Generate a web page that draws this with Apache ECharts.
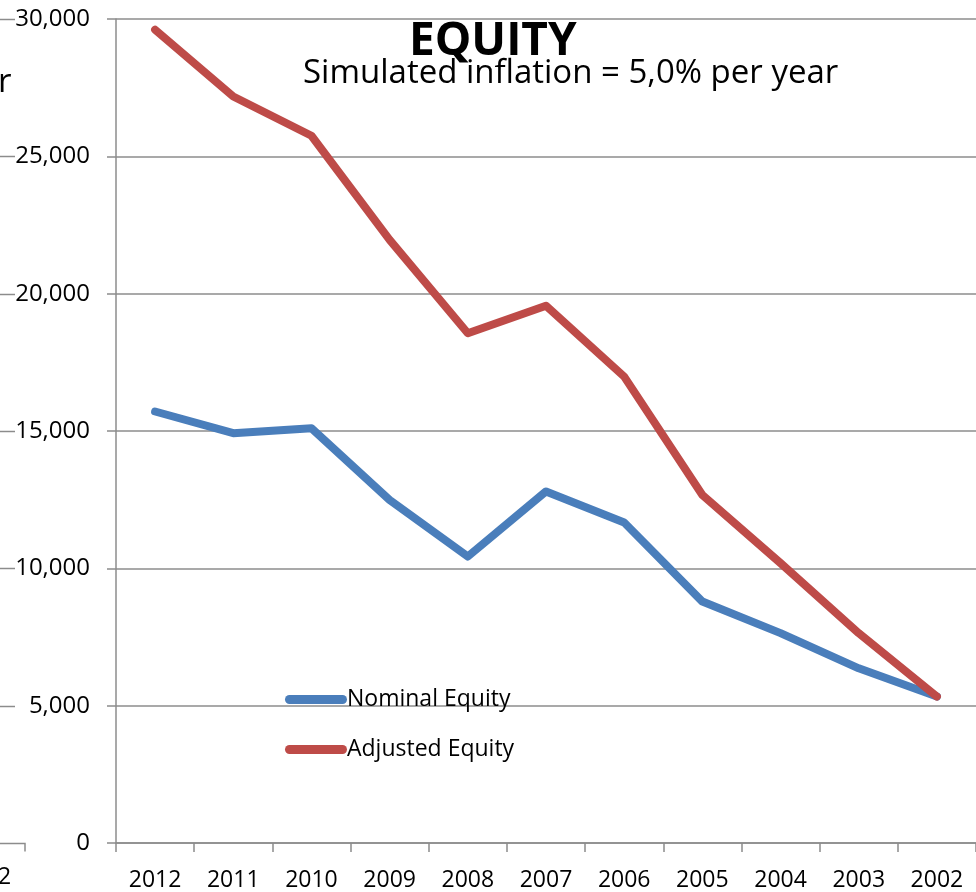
<!DOCTYPE html>
<html>
<head>
<meta charset="utf-8">
<script src="https://cdn.jsdelivr.net/npm/echarts@6/dist/echarts.min.js"></script>
<style>
    html, body { margin: 0; padding: 0; background: #fff; }
    #chart { width: 976px; height: 892px; }
</style>
</head>
<body>
<div id="chart"></div>
<script>
// values
var years = ['2012', '2011', '2010', '2009', '2008', '2007', '2006', '2005', '2004', '2003', '2002']
var nominalEquity = [15710, 14920, 15100, 12490, 10430, 12800, 11670, 8790, 7640, 6360, 5330]
var adjustedEquity = [29610, 27180, 25750, 21960, 18560, 19560, 16980, 12670, 10190, 7640, 5330]
var yTicks = [0, 5000, 10000, 15000, 20000, 25000, 30000]
var seriesNames = ['Nominal Equity', 'Adjusted Equity']
var colors = ['#4A7EBB', '#BE4B48']

var font = 'Open Sans'
var gridColor = '#8c8c8c'

var myChart = echarts.init(document.getElementById('chart'))

var seriesArr = [nominalEquity, adjustedEquity].map(function (arr, i) {
    return {
        name: seriesNames[i],
        type: 'line',
        data: arr,
        color: colors[i],
        symbol: 'none',
        lineStyle: { width: 8, color: colors[i], cap: 'round', join: 'round' },
        z: 3 + i
    }
})

var option = {
    animation: false,
    backgroundColor: '#fff',
    textStyle: { fontFamily: font },
    title: [
        {
            text: 'EQUITY',
            left: 404,
            top: 14,
            textStyle: { fontFamily: font, fontSize: 46, fontWeight: 'bold', color: '#000', lineHeight: 46 }
        },
        {
            text: 'Simulated inflation = 5,0% per year',
            left: 298,
            top: 51,
            textStyle: { fontFamily: font, fontSize: 33, fontWeight: 'normal', color: '#000', lineHeight: 35 }
        }
    ],
    legend: {
        orient: 'vertical',
        left: 280,
        top: 683,
        itemWidth: 62,
        itemHeight: 9,
        itemGap: 27,
        icon: 'path://M4.5,0 H57.5 A4.5,4.5 0 0 1 57.5,9 H4.5 A4.5,4.5 0 0 1 4.5,0 Z',
        textStyle: { fontFamily: font, fontSize: 23, color: '#000', padding: [0, 0, 0, -5] },
        data: seriesNames
    },
    grid: {
        left: 116,
        top: 19,
        width: 861,
        height: 824,
        containLabel: false
    },
    xAxis: {
        type: 'category',
        data: years,
        boundaryGap: true,
        axisLine: { lineStyle: { color: gridColor, width: 1.5 } },
        axisTick: { show: true, length: 9, lineStyle: { color: gridColor, width: 1.5 } },
        axisLabel: { color: '#000', fontFamily: font, fontSize: 23, margin: 26 }
    },
    yAxis: {
        type: 'value',
        min: 0,
        max: 30000,
        interval: 5000,
        axisLine: { show: true, lineStyle: { color: gridColor, width: 1.5 } },
        axisTick: { show: true, length: 9, lineStyle: { color: gridColor, width: 1.5 } },
        splitLine: { show: true, lineStyle: { color: gridColor, width: 1.5 } },
        axisLabel: {
            color: '#000',
            fontFamily: font,
            fontSize: 24,
            margin: 26,
            formatter: function (v) {
                return v.toLocaleString('en-US')
            }
        }
    },
    series: seriesArr
}

myChart.setOption(option)

// bits of the neighbouring chart that show at the left edge
var stubs = yTicks.filter(function (v) { return v > 0 }).map(function (v) {
    var y = Math.round(myChart.convertToPixel({ yAxisIndex: 0 }, v)) + 0.5
    return {
        type: 'line',
        shape: { x1: 0, y1: y, x2: 15, y2: y },
        style: { stroke: gridColor, lineWidth: 1.5 }
    }
})
var y0 = Math.round(myChart.convertToPixel({ yAxisIndex: 0 }, 0)) + 0.5
stubs.push({
    type: 'polyline',
    shape: { points: [[0, y0], [25, y0], [25, y0 + 8]] },
    style: { stroke: gridColor, lineWidth: 1.5, fill: null }
})
stubs.push({
    type: 'text',
    left: -2,
    top: 66,
    style: { text: 'r', fontFamily: font, fontSize: 33, fill: '#000' }
})
stubs.push({
    type: 'text',
    left: -2,
    top: 866,
    style: { text: '2', fontFamily: font, fontSize: 23, fill: '#000' }
})
myChart.setOption({ graphic: stubs })
</script>
</body>
</html>
